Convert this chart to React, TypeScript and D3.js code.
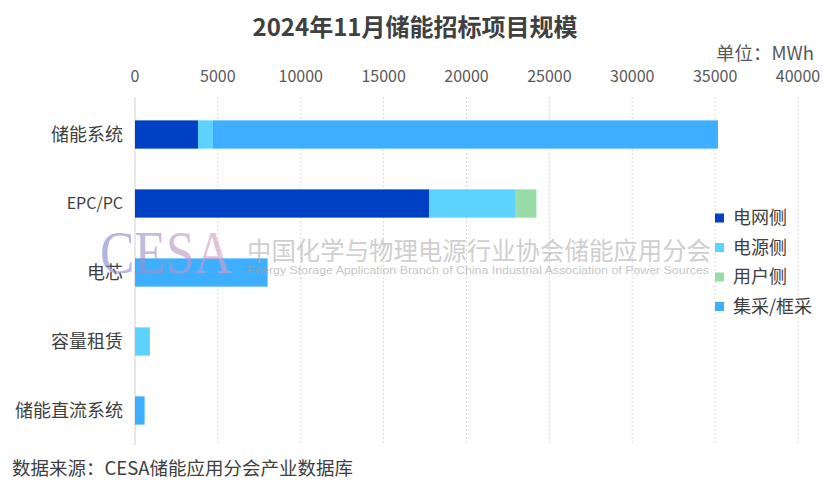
import React, { useRef, useEffect } from 'react';
import * as d3 from 'd3';

const categories = ['储能系统', 'EPC/PC', '电芯', '容量租赁', '储能直流系统'];
const seriesNames = ['电网侧', '电源侧', '用户侧', '集采/框采'];
const gridSide = [3800, 17740, 0, 0, 0];
const sourceSide = [900, 5190, 0, 900, 0];
const userSide = [0, 1290, 0, 0, 0];
const centralized = [30470, 0, 8000, 0, 580];
const xTicks = [0, 5000, 10000, 15000, 20000, 25000, 30000, 35000, 40000];
const colors = ['#0040C4', '#5CD3FF', '#97DBA6', '#3EAEFF'];

const W = 830;
const H = 492;
const FONT = '"Noto Sans CJK SC", "Microsoft YaHei", sans-serif';

const App: React.FC = () => {
  const svgRef = useRef<SVGSVGElement>(null);

  useEffect(() => {
    if (!svgRef.current) return;
    const svg = d3.select(svgRef.current);
    svg.selectAll('*').remove();

    const x = d3.scaleLinear().domain([0, 40000]).range([135, 798]);
    const y = d3.scaleBand().domain(categories).range([100, 445]).paddingInner(0.59).paddingOuter(0.295);

    const rows = categories.map((c, i) => ({
      cat: c,
      s0: gridSide[i],
      s1: sourceSide[i],
      s2: userSide[i],
      s3: centralized[i],
    }));
    const stacked = d3.stack<any>().keys(['s0', 's1', 's2', 's3'])(rows);

    // title
    svg.append('text')
      .attr('x', 415).attr('y', 36)
      .attr('text-anchor', 'middle')
      .attr('font-family', FONT)
      .attr('font-size', 24).attr('font-weight', 'bold')
      .attr('fill', '#404040')
      .text('2024年11月储能招标项目规模');

    svg.append('text')
      .attr('x', 814).attr('y', 60)
      .attr('text-anchor', 'end')
      .attr('font-family', FONT)
      .attr('font-size', 18.5)
      .attr('fill', '#595959')
      .text('单位：MWh');

    // grid
    svg.append('g').selectAll('line')
      .data(xTicks.slice(1))
      .join('line')
      .attr('x1', d => x(d)).attr('x2', d => x(d))
      .attr('y1', 97).attr('y2', 445)
      .attr('stroke', '#d9d9d9')
      .attr('stroke-dasharray', '2,2');

    svg.append('line')
      .attr('x1', x(0)).attr('x2', x(0))
      .attr('y1', 97).attr('y2', 445)
      .attr('stroke', '#d0d0d0');

    // tick labels
    svg.append('g').selectAll('text')
      .data(xTicks)
      .join('text')
      .attr('x', d => x(d)).attr('y', 82)
      .attr('text-anchor', 'middle')
      .attr('font-family', FONT)
      .attr('font-size', 16)
      .attr('fill', '#595959')
      .text(d => String(d));

    // category labels
    svg.append('g').selectAll('text')
      .data(categories)
      .join('text')
      .attr('x', 123).attr('y', d => (y(d) as number) + y.bandwidth() / 2)
      .attr('dy', '0.35em')
      .attr('text-anchor', 'end')
      .attr('font-family', FONT)
      .attr('font-size', d => (d === 'EPC/PC' ? 16 : 18))
      .attr('fill', '#404040')
      .text(d => d);

    // bars
    svg.append('g').selectAll('g')
      .data(stacked)
      .join('g')
      .attr('fill', (_, i) => colors[i])
      .selectAll('rect')
      .data(d => d)
      .join('rect')
      .attr('x', d => x(d[0]))
      .attr('width', d => x(d[1]) - x(d[0]))
      .attr('y', d => y(d.data.cat) as number)
      .attr('height', y.bandwidth());

    // watermark
    const defs = svg.append('defs');
    const grad = defs.append('linearGradient').attr('id', 'wm').attr('x1', '0').attr('x2', '1');
    grad.append('stop').attr('offset', '0').attr('stop-color', '#7a86c8');
    grad.append('stop').attr('offset', '1').attr('stop-color', '#e2a0c2');
    const wm = svg.append('g').attr('opacity', 0.6);
    wm.append('text')
      .attr('x', 100).attr('y', 273)
      .attr('font-family', '"Liberation Serif", serif')
      .attr('font-size', 62)
      .attr('fill', 'url(#wm)')
      .attr('textLength', 132)
      .attr('lengthAdjust', 'spacingAndGlyphs')
      .text('CESA');
    wm.append('text')
      .attr('x', 247).attr('y', 260)
      .attr('font-family', FONT)
      .attr('font-size', 25)
      .attr('fill', '#b0b0b0')
      .attr('textLength', 464)
      .attr('lengthAdjust', 'spacingAndGlyphs')
      .text('中国化学与物理电源行业协会储能应用分会');
    wm.append('text')
      .attr('x', 247).attr('y', 274)
      .attr('font-family', '"Liberation Sans Narrow", "Liberation Sans", sans-serif')
      .attr('font-size', 11)
      .attr('fill', '#a0a0a0')
      .attr('textLength', 462)
      .attr('lengthAdjust', 'spacingAndGlyphs')
      .text('Energy Storage Application Branch of China Industrial Association of Power Sources');

    // legend
    const legend = svg.append('g');
    seriesNames.forEach((name, i) => {
      const ly = 218 + i * 29.5;
      legend.append('rect')
        .attr('x', 715).attr('y', ly - 4.5)
        .attr('width', 9).attr('height', 9)
        .attr('fill', colors[i]);
      legend.append('text')
        .attr('x', 733).attr('y', ly)
        .attr('dy', '0.35em')
        .attr('font-family', FONT)
        .attr('font-size', 18)
        .attr('fill', '#404040')
        .text(name);
    });

    // source
    svg.append('text')
      .attr('x', 12).attr('y', 475)
      .attr('font-family', FONT)
      .attr('font-size', 18.5)
      .attr('fill', '#404040')
      .text('数据来源：CESA储能应用分会产业数据库');
  }, []);

  return (
    <svg
      ref={svgRef}
      width={W}
      height={H}
      style={{ position: 'absolute', left: 0, top: 0, background: '#fff' }}
    />
  );
};

export default App;
